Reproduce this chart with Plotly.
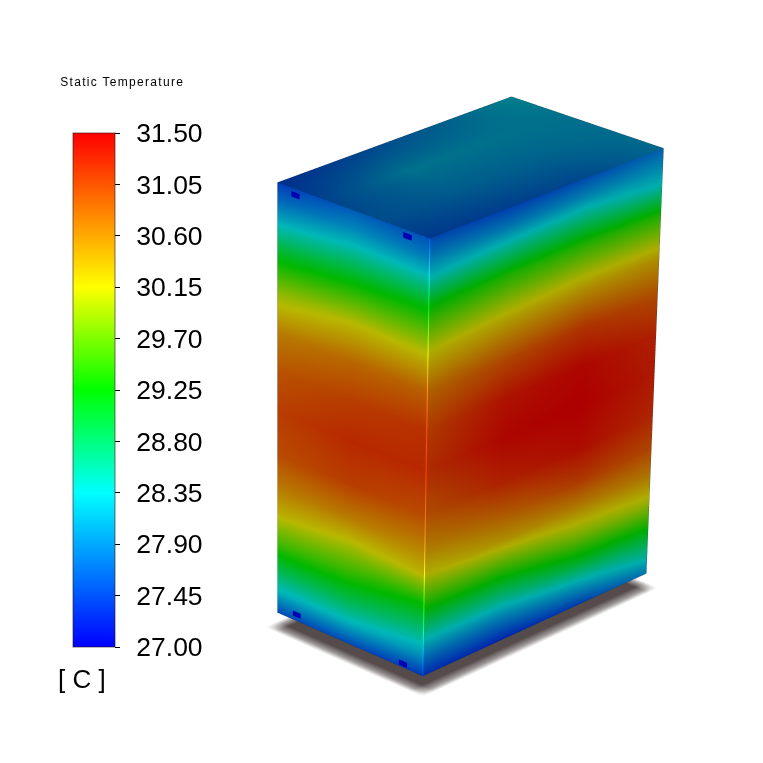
import numpy as np
import plotly.graph_objects as go

# scale
tick_vals = [27.00, 27.45, 27.90, 28.35, 28.80, 29.25, 29.70, 30.15, 30.60, 31.05, 31.50]
rainbow = [[0, "rgb(0,0,255)"], [0.3, "rgb(0,255,255)"], [0.5, "rgb(0,255,0)"],
           [0.7, "rgb(255,255,0)"], [1, "rgb(255,0,0)"]]

# box size
box_x = 354
box_y = 216
box_z = 489

# height fractions of the side walls, top to bottom
wall_rows = [0, 0.04, 0.08, 0.15, 0.25, 0.34, 0.43, 0.52, 0.62, 0.70, 0.76, 0.83, 0.90, 0.95, 1]

# temperature on the left wall, columns run from the far edge to the front edge
left_far = [27.45, 27.77, 28.20, 29.00, 29.97, 30.60, 30.90, 31.05, 30.95, 30.60, 30.25, 29.60, 28.85, 28.30, 27.55]
left_mid = [27.70, 28.00, 28.40, 29.15, 30.15, 30.75, 31.05, 31.20, 31.05, 30.60, 30.10, 29.50, 28.85, 28.30, 27.55]
left_front = [27.60, 27.90, 28.35, 29.20, 30.10, 30.80, 31.15, 31.20, 30.95, 30.55, 30.20, 29.25, 28.60, 28.10, 27.40]

# temperature on the right wall, columns run from the front edge to the far edge
right_front = [27.55, 27.90, 28.30, 29.25, 30.15, 30.75, 31.05, 31.15, 30.90, 30.55, 30.15, 29.40, 28.55, 27.90, 27.35]
right_a = [27.50, 27.90, 28.45, 29.40, 30.30, 30.95, 31.35, 31.45, 31.25, 30.80, 30.40, 29.50, 28.60, 27.90, 27.30]
right_b = [27.60, 28.00, 28.55, 29.45, 30.40, 31.10, 31.45, 31.50, 31.40, 31.05, 30.55, 29.85, 29.00, 28.20, 27.45]
right_far = [27.75, 28.05, 28.35, 29.40, 30.40, 30.95, 31.25, 31.30, 31.20, 30.95, 30.60, 30.00, 29.15, 28.60, 27.90]

# temperature on the top, one row per step away from the right wall
top_0 = [27.55, 27.60, 27.70, 28.00]
top_1 = [27.75, 27.90, 27.95, 28.05]
top_2 = [27.65, 28.10, 28.10, 28.10]
top_3 = [27.45, 27.65, 27.90, 28.25]

# inlets on the left wall
vent_y = [30, 189, 28, 186]
vent_z = [-6, -6, -484, -481]
vent_temp = 27.0

# view
elev = np.radians(31.2)
a, c, s = np.sqrt(0.5), np.cos(elev), np.sin(elev)
eye_dist = 2
zoom = 2.613
persp = 5190


def place(x, y, z):
    # orthographic camera, so the perspective of the render is put into the points
    x, y, z = np.asarray(x, float), np.asarray(y, float), np.asarray(z, float)
    sx = 430 + (x - y) * a
    sy = 238 - (x + y) * a * s - z * c
    w = (x + y) * a * c - z * s
    k = persp / (persp + w)
    h = 277 + (sx - 277) * k - 381.5
    v = 381.5 - (1100 + (sy - 1100) * k)
    return (h * a + v * a * s + w * a * c,
            -h * a + v * a * s + w * a * c,
            v * c - w * s)


no_light = dict(diffuse=0, specular=0, fresnel=0, roughness=1)
fig = go.Figure()


def add_face(x, y, z, temp, ambient=0.72, **kw):
    px, py, pz = place(x, y, z)
    fig.add_trace(go.Surface(x=px, y=py, z=pz, surfacecolor=temp, cmin=27, cmax=31.5,
                             colorscale=rainbow, showscale=False, hoverinfo="skip",
                             lighting=dict(ambient=ambient, **no_light), **kw))


rows = -box_z * np.array(wall_rows)

# floor shadow
shadow_edge = np.array([0, 0.55, 1, 1, 0.55, 0])
sx_nodes = [-15, -7, 5, box_x - 12, box_x - 3, box_x + 5]
sy_nodes = [-15, -7, 5, box_y - 12, box_y - 3, box_y + 5]
gx, gy = np.meshgrid(sx_nodes, sy_nodes)
px, py, pz = place(gx, gy, np.full(gx.shape, -box_z - 14.0))
fig.add_trace(go.Surface(x=px, y=py, z=pz, surfacecolor=np.outer(shadow_edge, shadow_edge),
                         cmin=0, cmax=1, showscale=False, hoverinfo="skip",
                         colorscale=[[0, "#ffffff"], [1, "#554b4b"]],
                         lighting=dict(ambient=1, **no_light)))

# left wall
cols = box_y * np.array([1, 0.5, 0])
gy, gz = np.meshgrid(cols, rows)
add_face(np.zeros(gy.shape), gy, gz, np.array([left_far, left_mid, left_front]).T)

# right wall
cols = box_x * np.array([0, 1 / 3, 2 / 3, 1])
gx, gz = np.meshgrid(cols, rows)
add_face(gx, np.zeros(gx.shape), gz, np.array([right_front, right_a, right_b, right_far]).T, ambient=0.68)

# top
gx, gy = np.meshgrid(box_x * np.array([0, 1 / 3, 2 / 3, 1]), box_y * np.array([0, 1 / 3, 2 / 3, 1]))
add_face(gx, gy, np.zeros(gx.shape), np.array([top_0, top_1, top_2, top_3]), ambient=0.55)

# inlets
for vy, vz in zip(vent_y, vent_z):
    gy, gz = np.meshgrid([vy - 6, vy + 6], [vz - 3, vz + 3])
    add_face(np.full(gy.shape, -1.0), gy, gz, np.full(gy.shape, vent_temp), ambient=0.7)

# front edge, brighter than the walls
px, py, pz = place(np.full(len(rows), -1.0), np.full(len(rows), -1.0), rows)
fig.add_trace(go.Scatter3d(x=px, y=py, z=pz, mode="lines", hoverinfo="skip", showlegend=False,
                           line=dict(width=2, color=right_front, cmin=27, cmax=31.5, colorscale=rainbow)))

# dark outer edges
for ex, ey, ez in [([0, 0, box_x, box_x], [box_y, box_y, 0, 0], [0, -box_z, -box_z, 0]),
                   ([0, 0, box_x], [box_y, 0, 0], [-box_z, -box_z, -box_z]),
                   ([0, box_x, box_x], [box_y, box_y, 0], [0, 0, 0])]:
    px, py, pz = place(ex, ey, ez)
    fig.add_trace(go.Scatter3d(x=px, y=py, z=pz, mode="lines", hoverinfo="skip", showlegend=False,
                               line=dict(width=1, color="#1c3a4c")))

# scale bar
fig.add_trace(go.Surface(x=[[0, 1], [0, 1]], y=[[0, 0], [1, 1]], z=[[-900, -900], [-900, -900]],
                         surfacecolor=[[27, 27], [31.5, 31.5]], cmin=27, cmax=31.5, opacity=0,
                         colorscale=rainbow, hoverinfo="skip",
                         colorbar=dict(x=73 / 763, xanchor="left", y=(763 - 647) / 763, yanchor="bottom",
                                       lenmode="pixels", len=514, thickness=42, xpad=0, ypad=0,
                                       outlinecolor="rgba(40,20,10,0.6)", outlinewidth=1,
                                       tickvals=tick_vals, tickformat=".2f", ticks="outside",
                                       ticklen=5, tickcolor="black", tickwidth=1,
                                       tickfont=dict(family="Liberation Sans", size=26.5, color="black"))))

axis = dict(visible=False, range=[-500, 500])
fig.update_layout(
    width=763, height=763, margin=dict(l=0, r=0, t=0, b=0), showlegend=False,
    paper_bgcolor="white", font=dict(family="Liberation Sans", color="black"),
    scene=dict(xaxis=axis, yaxis=axis, zaxis=axis, aspectmode="manual",
               aspectratio=dict(x=zoom, y=zoom, z=zoom), bgcolor="white",
               domain=dict(x=[0, 1], y=[0, 1]),
               camera=dict(projection=dict(type="orthographic"), center=dict(x=0, y=0, z=0),
                           up=dict(x=0, y=0, z=1),
                           eye=dict(x=-a * c * eye_dist, y=-a * c * eye_dist, z=s * eye_dist))),
    annotations=[
        dict(text="Static Temperature", x=122 / 763, y=1 - 82 / 763, xref="paper", yref="paper",
             xanchor="center", yanchor="middle", showarrow=False, font=dict(size=12)),
        dict(text="[ C ]", x=82 / 763, y=1 - 679 / 763, xref="paper", yref="paper",
             xanchor="center", yanchor="middle", showarrow=False, font=dict(size=26)),
    ],
)

# no plotly option for these: page margin, letter spacing, gap between ticks and labels
fig.write_html("out.html", config=dict(displayModeBar=False),
               post_script="document.body.style.margin='0';"
               "document.querySelector('.annotation-text').style.letterSpacing='1.3px';"
               "document.querySelectorAll('.colorbar text').forEach(function(t){"
               "t.setAttribute('x', +t.getAttribute('x') + 11);});")
